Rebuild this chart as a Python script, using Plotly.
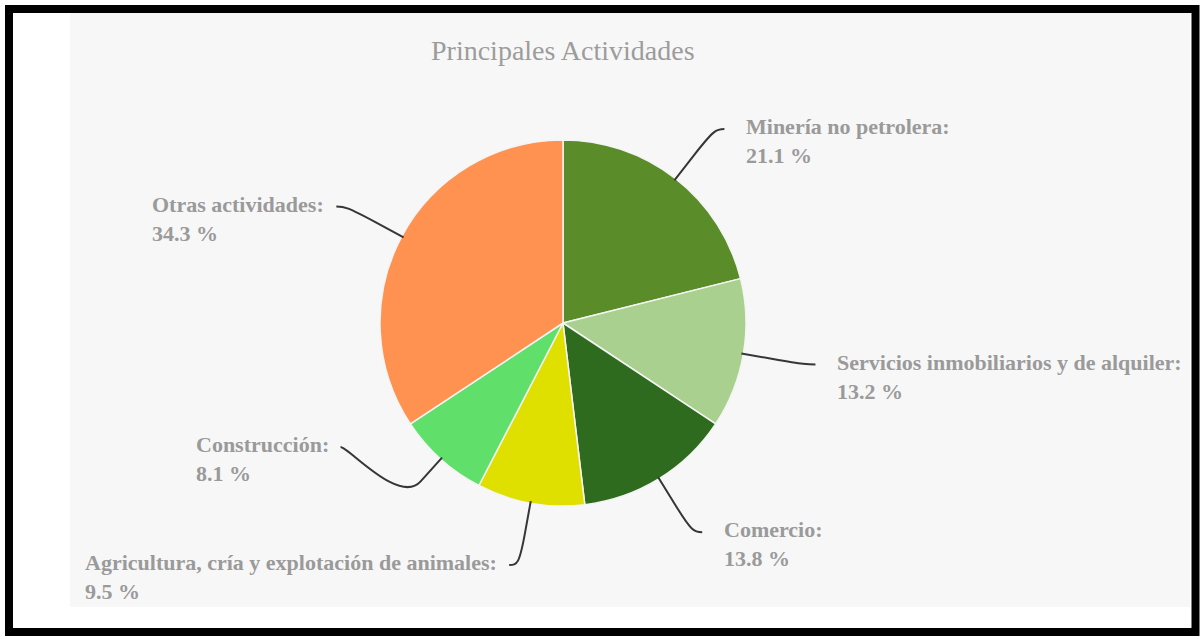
import math
import plotly.graph_objects as go

# ---------------- data ----------------
categories = [
    "Minería no petrolera",
    "Servicios inmobiliarios y de alquiler",
    "Comercio",
    "Agricultura, cría y explotación de animales",
    "Construcción",
    "Otras actividades",
]
values = [21.1, 13.2, 13.8, 9.5, 8.1, 34.3]
colors = ["#5b8c2a", "#a9d08e", "#2f6b1f", "#dfe000", "#60df6b", "#ff9250"]
title_text = "Principales Actividades"

# ---------------- layout / style ----------------
W, H = 1202, 639
CX, CY, R = 563, 323, 183          # pie centre and radius (px)
LABEL_R = 246                       # ring on which labels sit
BREAK_R = 213                       # connector break radius
# label nudges (px) mimicking label-collision avoidance
NUDGE = {4: (0, -59)}
GAP_RIGHT, GAP_LEFT = 20, 10
LABEL_FONT = dict(family="Liberation Serif", size=22, color="#9a9a9a")
CONNECTOR = dict(color="#363636", width=2)


def px(x):
    return x / W


def py(y):
    return 1 - y / H


fig = go.Figure()
fig.add_trace(go.Pie(
    labels=categories,
    values=values,
    sort=False,
    direction="clockwise",
    rotation=0,
    textinfo="none",
    hoverinfo="label+percent",
    marker=dict(colors=colors, line=dict(color="#f4f4f4", width=1.5)),
    domain=dict(x=[px(CX - R), px(CX + R)], y=[py(CY + R), py(CY - R)]),
    showlegend=False,
))

shapes = []
# chart background panel
shapes.append(dict(type="rect", xref="paper", yref="paper",
                   x0=px(70), x1=px(1190), y0=py(607), y1=py(12),
                   fillcolor="#f7f7f7", line=dict(width=0), layer="below"))
# black frame
shapes.append(dict(type="rect", xref="paper", yref="paper",
                   x0=px(9), x1=px(1195.5), y0=py(632), y1=py(9),
                   fillcolor="rgba(0,0,0,0)", line=dict(color="black", width=8)))

annotations = []
total = sum(values)
cum = 0.0
for i, (cat, v) in enumerate(zip(categories, values)):
    theta = math.radians(360.0 * (cum + v / 2.0) / total)
    cum += v
    s, c = math.sin(theta), math.cos(theta)
    left = s < 0
    sign = -1 if left else 1
    nx, ny = NUDGE.get(i, (0, 0))

    P = (CX + (R - 2) * s, CY - (R - 2) * c)
    B = (CX + BREAK_R * s, CY - BREAK_R * c)
    ly = CY - LABEL_R * c + ny
    dx = math.sqrt(max(LABEL_R ** 2 - (ly - CY) ** 2, 0.0))
    ex = CX + sign * (dx + 10) + nx
    E = (ex, ly)
    C1 = (ex - sign * 8, ly)
    C2 = (2 * B[0] - P[0], 2 * B[1] - P[1])

    path = (f"M {px(E[0])},{py(E[1])} "
            f"C {px(C1[0])},{py(C1[1])} {px(C2[0])},{py(C2[1])} {px(B[0])},{py(B[1])} "
            f"L {px(P[0])},{py(P[1])}")
    shapes.append(dict(type="path", xref="paper", yref="paper", path=path,
                       line=CONNECTOR))

    tx = ex - GAP_LEFT if left else ex + GAP_RIGHT
    annotations.append(dict(
        xref="paper", yref="paper",
        x=px(tx), y=py(ly + 12),
        xanchor="right" if left else "left", yanchor="middle",
        align="left", showarrow=False,
        text=f"<b>{cat}:</b><br><b>{v:.1f} %</b>",
        font=LABEL_FONT,
    ))

annotations.append(dict(
    xref="paper", yref="paper", x=px(CX), y=py(50),
    xanchor="center", yanchor="middle", showarrow=False,
    text=title_text,
    font=dict(family="Liberation Serif", size=28, color="#9c9c9c"),
))

fig.update_layout(
    width=W, height=H,
    margin=dict(l=0, r=0, t=0, b=0),
    paper_bgcolor="white",
    plot_bgcolor="white",
    shapes=shapes,
    annotations=annotations,
)

fig.write_html(
    "out.html",
    config={"displayModeBar": False},
    post_script="document.body.style.margin='0';document.body.style.overflow='hidden';",
)
